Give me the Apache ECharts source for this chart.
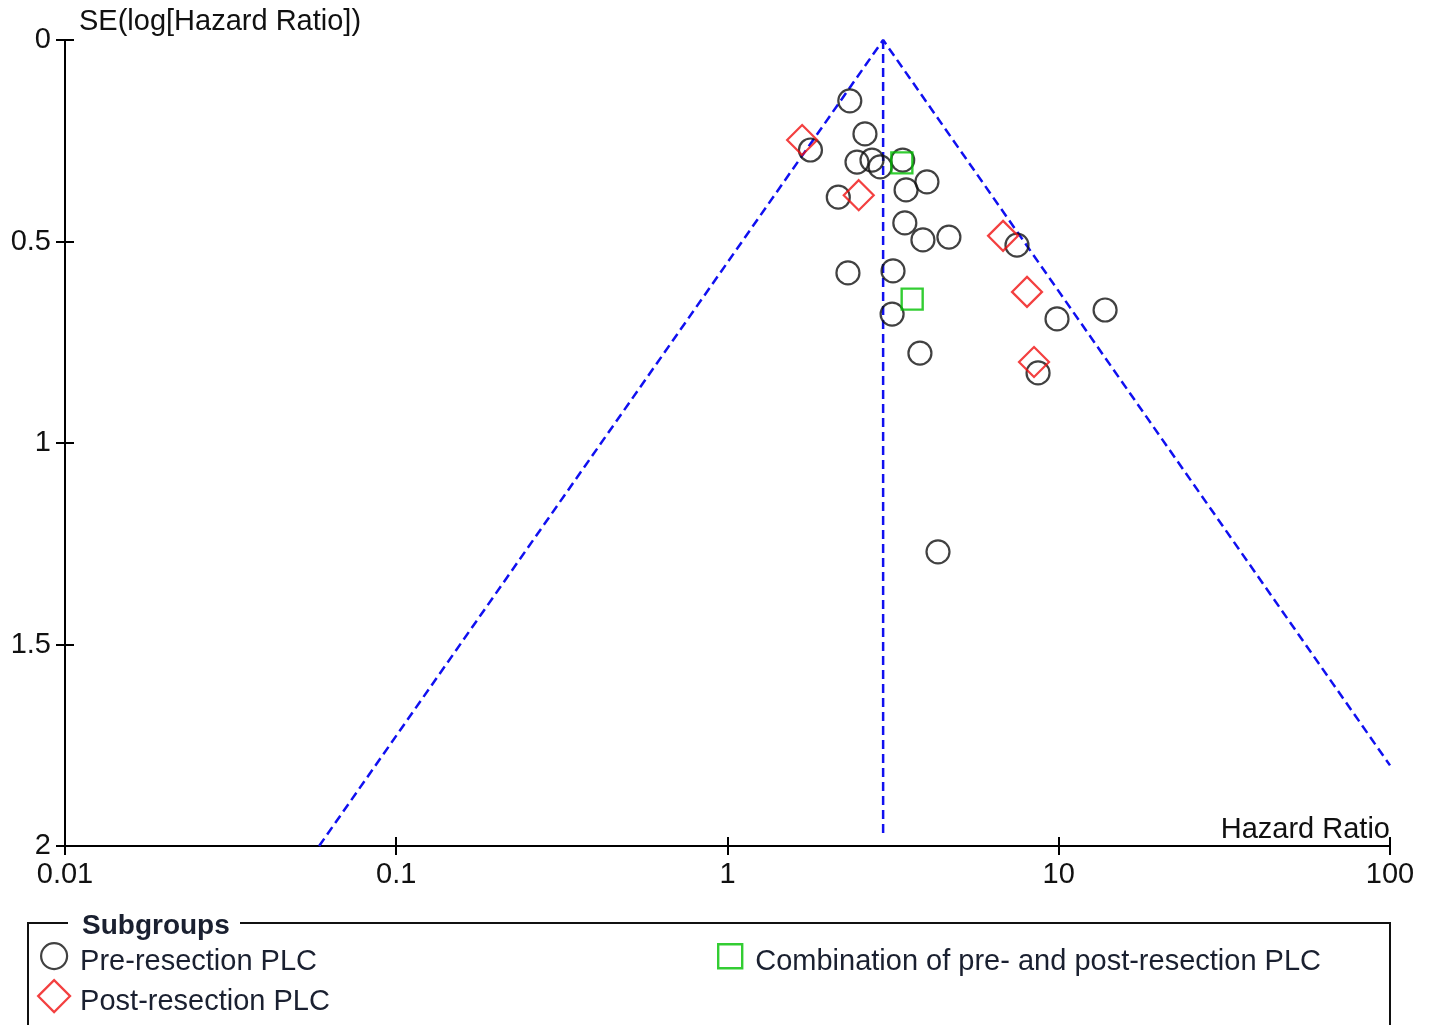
<!DOCTYPE html>
<html>
<head>
<meta charset="utf-8">
<script src="https://cdn.jsdelivr.net/npm/echarts@6/dist/echarts.min.js"></script>
<style>
  html, body { margin: 0; padding: 0; background: #fff; }
  #chart { width: 1432px; height: 1025px; }
</style>
</head>
<body>
<div id="chart"></div>
<script>
// 各子組資料 (HR, SE)
const preHR = [2.34, 2.60, 1.78, 2.46, 2.73, 2.89, 3.38, 3.46, 4.00, 2.16, 3.43, 3.89, 4.66, 2.31, 3.16, 3.14, 3.81, 7.48, 9.88, 8.66, 13.8, 4.32];
const preSE = [0.151, 0.233, 0.273, 0.303, 0.298, 0.315, 0.298, 0.372, 0.352, 0.390, 0.454, 0.496, 0.489, 0.578, 0.573, 0.680, 0.777, 0.509, 0.692, 0.826, 0.670, 1.270];
const postHR = [1.68, 2.49, 6.79, 8.02, 8.42];
const postSE = [0.248, 0.385, 0.486, 0.625, 0.799];
const comboHR = [3.36, 3.61];
const comboSE = [0.305, 0.643];

// funnel 線
const funnelHR = [0.0585, 2.95, 100];
const funnelSE = [2, 0, 1.8];
const centerHR = [2.95, 2.95];
const centerSE = [0, 1.98];

const xTicks = [0.01, 0.1, 1, 10, 100];
const yTicks = [0, 0.5, 1, 1.5, 2];

const seriesNames = ["Pre-resection PLC", "Post-resection PLC", "Combination of pre- and post-resection PLC"];

const font = '"Liberation Sans", Arial, sans-serif';
const blue = "#1010f0";
const textColor = "#1a2030";
const zip = (xs, ys) => xs.map((x, i) => [x, ys[i]]);

const chart = echarts.init(document.getElementById("chart"), null, { renderer: "canvas" });

const dashLine = {
  type: "line",
  symbol: "none",
  silent: true,
  z: 1,
  lineStyle: { color: blue, width: 2.5, type: [9, 5] },
};

const gridRect = { left: 65, right: 42, top: 40, bottom: 179 };
const tickStyle = { color: "#000", width: 2 };

// legend 文字略低於圖示
const legendText = (padLeft) => ({
  fontFamily: font,
  fontSize: 29,
  color: textColor,
  rich: {
    t: { fontFamily: font, fontSize: 29, color: textColor, padding: [12, 0, 0, padLeft] },
  },
});

const baseX = {
  type: "log",
  logBase: 10,
  min: xTicks[0],
  max: xTicks[xTicks.length - 1],
  position: "bottom",
  splitLine: { show: false },
  minorTick: { show: false },
};
const baseY = {
  type: "value",
  inverse: true,
  min: yTicks[0],
  max: yTicks[yTicks.length - 1],
  interval: 0.5,
  position: "left",
  splitLine: { show: false },
};

chart.setOption({
  backgroundColor: "#fff",
  animation: false,
  textStyle: { fontFamily: font },
  title: {
    text: "Subgroups",
    left: 77,
    top: 907,
    textStyle: { fontFamily: font, fontSize: 28, fontWeight: "bold", color: textColor },
  },
  // 第二個 grid 只用來畫向內的刻度
  grid: [{ ...gridRect }, { ...gridRect }],
  xAxis: [
    {
      ...baseX,
      gridIndex: 0,
      name: "Hazard Ratio",
      nameLocation: "end",
      nameGap: 0,
      nameTextStyle: {
        fontFamily: font, fontSize: 29, color: "#111",
        align: "right", verticalAlign: "bottom", padding: [0, 0, 2, 0],
      },
      axisLine: { onZero: false, lineStyle: { color: "#000", width: 2 } },
      axisTick: { show: true, length: 9, lineStyle: tickStyle },
      axisLabel: {
        fontFamily: font, fontSize: 29, color: "#111", margin: 14,
        formatter: (v) => String(v),
      },
    },
    {
      ...baseX,
      gridIndex: 1,
      axisLine: { show: false, onZero: false },
      axisTick: { show: true, inside: true, length: 9, lineStyle: tickStyle },
      axisLabel: { show: false },
    },
  ],
  yAxis: [
    {
      ...baseY,
      gridIndex: 0,
      name: "SE(log[Hazard Ratio])",
      nameLocation: "start",
      nameGap: 4,
      nameTextStyle: {
        fontFamily: font, fontSize: 29, color: "#111",
        align: "left", verticalAlign: "bottom", padding: [0, 0, 0, 14],
      },
      axisLine: { onZero: false, lineStyle: { color: "#000", width: 2 } },
      axisTick: { show: true, length: 9, lineStyle: tickStyle },
      axisLabel: {
        fontFamily: font, fontSize: 29, color: "#111", margin: 14,
        formatter: (v) => String(v),
      },
    },
    {
      ...baseY,
      gridIndex: 1,
      axisLine: { show: false, onZero: false },
      axisTick: { show: true, inside: true, length: 9, lineStyle: tickStyle },
      axisLabel: { show: false },
    },
  ],
  legend: [
    {
      data: [{ name: seriesNames[0], icon: "circle", itemStyle: { color: "transparent", borderColor: "#111", borderWidth: 2.2 } }],
      left: 40, top: 942, padding: 0, itemWidth: 26, itemHeight: 26,
      formatter: "{t|{name}}",
      textStyle: legendText(8),
      selectedMode: false,
    },
    {
      data: [{ name: seriesNames[1], icon: "diamond", itemStyle: { color: "transparent", borderColor: "#f01010", borderWidth: 2.2 } }],
      left: 37, top: 979, padding: 0, itemWidth: 32, itemHeight: 32,
      formatter: "{t|{name}}",
      textStyle: legendText(5),
      selectedMode: false,
    },
    {
      data: [{ name: seriesNames[2], icon: "rect", itemStyle: { color: "transparent", borderColor: "#00c000", borderWidth: 2.4 } }],
      left: 717, top: 943, padding: 0, itemWidth: 24, itemHeight: 24,
      formatter: "{t|{name}}",
      textStyle: legendText(8),
      selectedMode: false,
    },
  ],
  graphic: [
    {
      type: "polyline",
      shape: { points: [[68, 923], [28, 923], [28, 1025]] },
      style: { stroke: "#111", lineWidth: 2, fill: null },
      silent: true,
    },
    {
      type: "polyline",
      shape: { points: [[240, 923], [1390, 923], [1390, 1025]] },
      style: { stroke: "#111", lineWidth: 2, fill: null },
      silent: true,
    },
  ],
  series: [
    { ...dashLine, name: "funnel", data: zip(funnelHR, funnelSE) },
    { ...dashLine, name: "pooled", data: zip(centerHR, centerSE) },
    {
      name: seriesNames[0],
      type: "scatter",
      symbol: "circle",
      symbolSize: 23,
      z: 3,
      itemStyle: { color: "transparent", borderColor: "#111", borderWidth: 2.2 },
      data: zip(preHR, preSE),
    },
    {
      name: seriesNames[1],
      type: "scatter",
      symbol: "diamond",
      symbolSize: 30,
      z: 4,
      itemStyle: { color: "transparent", borderColor: "#f01010", borderWidth: 2.2 },
      data: zip(postHR, postSE),
    },
    {
      name: seriesNames[2],
      type: "scatter",
      symbol: "rect",
      symbolSize: 21,
      z: 5,
      itemStyle: { color: "transparent", borderColor: "#00c000", borderWidth: 2.4 },
      data: zip(comboHR, comboSE),
    },
  ],
});
</script>
</body>
</html>
